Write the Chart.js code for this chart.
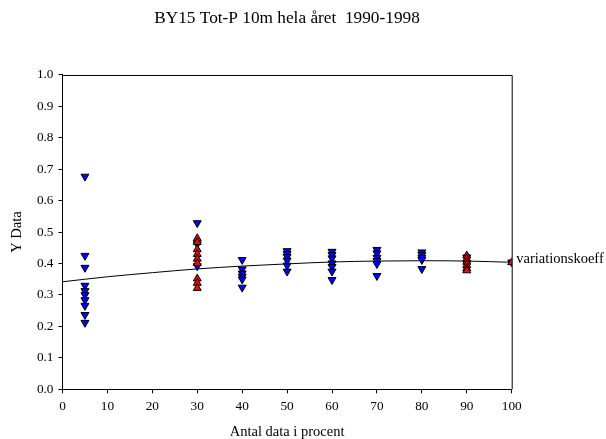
<!DOCTYPE html>
<html>
<head>
<meta charset="utf-8">
<script src="https://cdn.jsdelivr.net/npm/chart.js@4"></script>
<style>
  html, body { margin: 0; padding: 0; background: #fff; }
  #wrap { width: 606px; height: 439px; }
</style>
</head>
<body>
<div id="wrap"><canvas id="chart" width="606" height="439"></canvas></div>
<script>
// blue (down triangles)
const blueX = [5, 5, 5, 5, 5, 5, 5, 5, 5, 5,
  30, 30, 30,
  40, 40, 40, 40, 40, 40,
  50, 50, 50, 50, 50, 50,
  60, 60, 60, 60, 60, 60, 60,
  70, 70, 70, 70, 70, 70,
  80, 80, 80, 80, 80,
  90, 90, 100];
const blueY = [0.677, 0.425, 0.387, 0.330, 0.313, 0.300, 0.284, 0.266, 0.237, 0.212,
  0.529, 0.462, 0.392,
  0.412, 0.382, 0.369, 0.359, 0.350, 0.324,
  0.440, 0.431, 0.422, 0.410, 0.394, 0.375,
  0.438, 0.428, 0.417, 0.401, 0.390, 0.375, 0.348,
  0.444, 0.433, 0.419, 0.409, 0.399, 0.361,
  0.436, 0.428, 0.419, 0.412, 0.383,
  0.420, 0.400, 0.404];

// red (up triangles)
const redX = [30, 30, 30, 30, 30, 30, 30, 30, 30,
  90, 90, 90, 90, 90, 90, 100];
const redY = [0.480, 0.468, 0.445, 0.430, 0.415, 0.401, 0.352, 0.338, 0.322,
  0.425, 0.415, 0.405, 0.395, 0.385, 0.378, 0.404];

// trend curve
const curveX = [0, 10, 20, 30, 40, 50, 60, 70, 80, 90, 100];
const curveY = [0.342, 0.358, 0.371, 0.383, 0.392, 0.399, 0.405, 0.408, 0.409, 0.408, 0.404];

const titleText = "BY15 Tot-P 10m hela året  1990-1998";
const xTitle = "Antal data i procent";
const yTitle = "Y Data";
const pointLabel = "variationskoeff";

const serif = "'Liberation Serif', 'Times New Roman', serif";

function pts(xs, ys) {
  return xs.map((x, i) => ({ x: x, y: ys[i] }));
}

// box around the plot area + label at last point
const framePlugin = {
  id: "frame",
  afterDraw(chart) {
    const { ctx, chartArea: a, scales } = chart;
    ctx.save();
    ctx.strokeStyle = "#000";
    ctx.lineWidth = 1;
    ctx.beginPath();
    ctx.moveTo(a.left, a.top + 0.5);
    ctx.lineTo(a.right + 0.5, a.top + 0.5);
    ctx.lineTo(a.right + 0.5, a.bottom);
    ctx.stroke();

    const lx = scales.x.getPixelForValue(redX[redX.length - 1]);
    const ly = scales.y.getPixelForValue(redY[redY.length - 1]);
    ctx.fillStyle = "#000";
    ctx.font = "14.5px " + serif;
    ctx.textBaseline = "middle";
    ctx.textAlign = "left";
    ctx.fillText(pointLabel, lx + 4.5, ly - 3);
    ctx.restore();
  }
};

new Chart(document.getElementById("chart"), {
  type: "scatter",
  data: {
    datasets: [
      {
        label: "red",
        data: pts(redX, redY),
        order: 0,
        pointStyle: "triangle",
        pointRadius: 4.6,
        backgroundColor: "#ff0000",
        borderColor: "#000",
        borderWidth: 1
      },
      {
        label: "blue",
        data: pts(blueX, blueY),
        order: 1,
        pointStyle: "triangle",
        rotation: 180,
        pointRadius: 4.6,
        backgroundColor: "#0000ff",
        borderColor: "#000",
        borderWidth: 1
      },
      {
        label: "curve",
        type: "line",
        data: pts(curveX, curveY),
        order: 2,
        showLine: true,
        pointRadius: 0,
        borderColor: "#000",
        borderWidth: 1,
        cubicInterpolationMode: "monotone",
        fill: false
      }
    ]
  },
  options: {
    responsive: false,
    animation: false,
    layout: { padding: { left: 0, right: 32, top: 0, bottom: 0 } },
    plugins: {
      legend: { display: false },
      tooltip: { enabled: false },
      title: {
        display: true,
        text: titleText,
        color: "#000",
        font: { family: serif, size: 17.3, weight: "normal", lineHeight: 1.2 },
        padding: { top: 8, bottom: 46.2 }
      }
    },
    scales: {
      x: {
        type: "linear",
        min: 0,
        max: 100,
        ticks: {
          stepSize: 10,
          color: "#000",
          padding: 5,
          maxRotation: 0,
          font: { family: serif, size: 13.3 }
        },
        grid: { drawOnChartArea: false, tickLength: 4, color: "#000" },
        border: { color: "#000", width: 1 },
        title: {
          display: true,
          text: xTitle,
          color: "#000",
          font: { family: serif, size: 14.5, lineHeight: 1 },
          padding: { top: 0, bottom: 0 }
        },
        afterFit(s) { s.height = 49.7; }
      },
      y: {
        min: 0,
        max: 1,
        ticks: {
          stepSize: 0.1,
          color: "#000",
          padding: 5,
          font: { family: serif, size: 13.3 },
          callback: v => v.toFixed(1)
        },
        grid: { drawOnChartArea: false, tickLength: 4, color: "#000" },
        border: { color: "#000", width: 1 },
        title: {
          display: true,
          text: yTitle,
          color: "#000",
          font: { family: serif, size: 14.5, lineHeight: 1.2 },
          padding: { top: 8.5, bottom: 0 }
        },
        afterFit(s) { s.width = 62.5; }
      },
      y2: {
        position: "right",
        min: 0,
        max: 1,
        ticks: { display: false },
        grid: { display: false },
        border: { display: false },
        afterFit(s) { s.width = 62.3; }
      }
    }
  },
  plugins: [framePlugin]
});
</script>
</body>
</html>
